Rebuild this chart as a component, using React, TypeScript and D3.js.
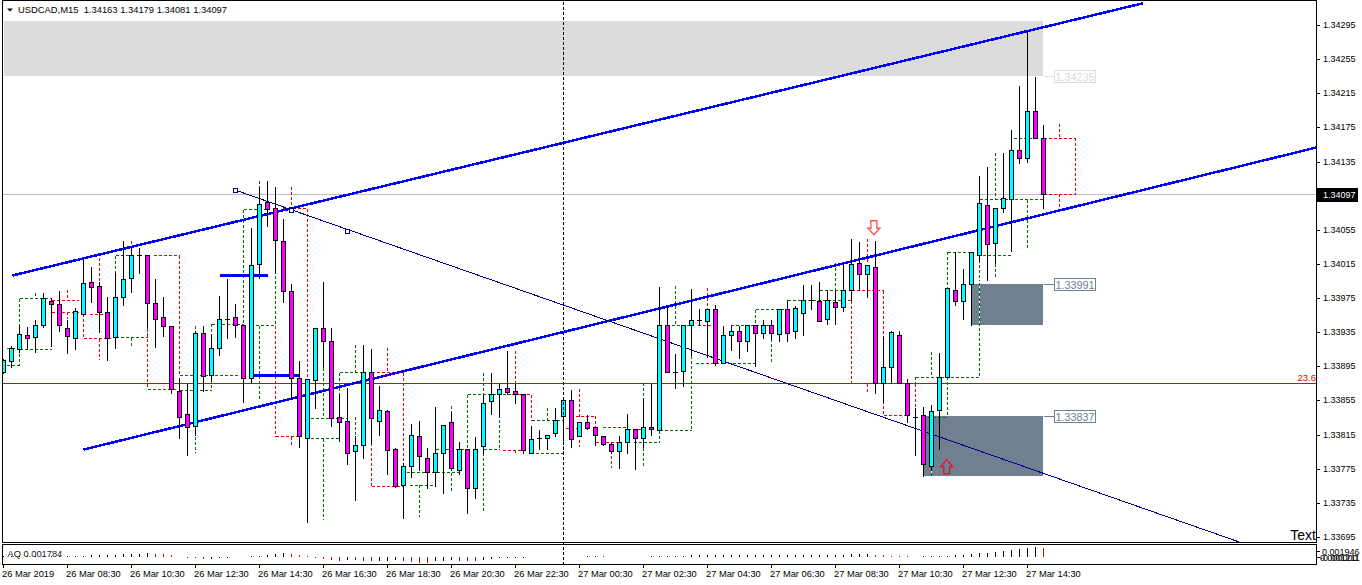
import React from "react";
import * as d3 from "d3";

const opens = [1.33888,1.33901,1.33915,1.33932,1.33929,1.33943,1.33972,1.33968,1.33940,1.33928,1.33956,1.33994,1.33989,1.33959,1.33929,1.33976,1.33998,1.34025,1.34025,1.33969,1.33953,1.33942,1.33866,1.33839,1.33825,1.33934,1.33885,1.33917,1.33951,1.33953,1.33943,1.33881,1.34015,1.34087,1.34080,1.34042,1.33983,1.33881,1.33811,1.33879,1.33940,1.33925,1.33836,1.33831,1.33796,1.33803,1.33888,1.33831,1.33843,1.33798,1.33756,1.33778,1.33813,1.33788,1.33771,1.33794,1.33830,1.33774,1.33798,1.33752,1.33802,1.33854,1.33862,1.33870,1.33866,1.33862,1.33793,1.33811,1.33811,1.33817,1.33837,1.33856,1.33813,1.33830,1.33824,1.33813,1.33804,1.33796,1.33806,1.33821,1.33811,1.33824,1.33820,1.33944,1.33888,1.33890,1.33943,1.33949,1.33948,1.33962,1.33899,1.33932,1.33936,1.33925,1.33943,1.33934,1.33943,1.33933,1.33962,1.33936,1.33957,1.33973,1.33972,1.33950,1.33970,1.33964,1.33984,1.34016,1.34003,1.34011,1.33875,1.33894,1.33932,1.33876,1.33836,1.33838,1.33778,1.33844,1.33883,1.33985,1.33972,1.33991,1.34025,1.34084,1.34039,1.34080,1.34091,1.34148,1.34139,1.34194,1.34163];
const highs = [1.33905,1.33920,1.33943,1.33942,1.33950,1.33982,1.33976,1.33985,1.33951,1.33964,1.34022,1.34012,1.33995,1.33977,1.34005,1.34043,1.34035,1.34035,1.34025,1.33999,1.33977,1.33942,1.33883,1.33876,1.33937,1.33943,1.33934,1.33979,1.33999,1.33969,1.33943,1.34058,1.34106,1.34113,1.34106,1.34069,1.33993,1.33902,1.33880,1.33941,1.33995,1.33941,1.33862,1.33871,1.33815,1.33921,1.33917,1.33873,1.33845,1.33800,1.33783,1.33829,1.33832,1.33800,1.33849,1.33828,1.33842,1.33808,1.33798,1.33813,1.33862,1.33888,1.33876,1.33914,1.33876,1.33864,1.33826,1.33821,1.33815,1.33847,1.33857,1.33869,1.33831,1.33839,1.33825,1.33815,1.33806,1.33814,1.33840,1.33821,1.33859,1.33875,1.33989,1.33967,1.33911,1.33943,1.33987,1.33963,1.33962,1.33968,1.33943,1.33943,1.33943,1.33943,1.33943,1.33950,1.33950,1.33962,1.33973,1.33967,1.33991,1.33991,1.33995,1.33984,1.33984,1.34017,1.34045,1.34042,1.34014,1.34043,1.33930,1.33937,1.33936,1.33881,1.33847,1.33849,1.33851,1.33912,1.33987,1.34030,1.34010,1.34029,1.34119,1.34130,1.34082,1.34146,1.34173,1.34225,1.34290,1.34235,1.34179];
const lows = [1.33887,1.33894,1.33912,1.33917,1.33912,1.33941,1.33919,1.33936,1.33911,1.33915,1.33955,1.33970,1.33935,1.33902,1.33917,1.33967,1.33982,1.34004,1.33941,1.33918,1.33930,1.33864,1.33811,1.33791,1.33815,1.33866,1.33879,1.33908,1.33928,1.33929,1.33853,1.33876,1.33998,1.34060,1.34004,1.33970,1.33858,1.33800,1.33712,1.33846,1.33894,1.33825,1.33808,1.33780,1.33738,1.33788,1.33806,1.33814,1.33769,1.33754,1.33717,1.33765,1.33773,1.33753,1.33755,1.33746,1.33774,1.33769,1.33723,1.33741,1.33794,1.33839,1.33836,1.33862,1.33852,1.33793,1.33793,1.33798,1.33798,1.33813,1.33809,1.33800,1.33813,1.33822,1.33803,1.33803,1.33794,1.33776,1.33794,1.33775,1.33801,1.33815,1.33820,1.33888,1.33870,1.33872,1.33908,1.33943,1.33906,1.33897,1.33899,1.33914,1.33905,1.33913,1.33895,1.33928,1.33928,1.33925,1.33925,1.33928,1.33932,1.33962,1.33948,1.33945,1.33945,1.33960,1.33973,1.33985,1.33976,1.33864,1.33853,1.33875,1.33875,1.33830,1.33791,1.33766,1.33774,1.33798,1.33883,1.33967,1.33950,1.33944,1.34018,1.33996,1.34016,1.34076,1.34030,1.34133,1.34134,1.34163,1.34081];
const closes = [1.33902,1.33917,1.33933,1.33928,1.33943,1.33975,1.33968,1.33943,1.33930,1.33960,1.33993,1.33988,1.33959,1.33928,1.33976,1.33997,1.34025,1.34025,1.33969,1.33951,1.33942,1.33869,1.33836,1.33824,1.33934,1.33884,1.33917,1.33951,1.33951,1.33944,1.33881,1.34014,1.34085,1.34079,1.34043,1.33983,1.33881,1.33813,1.33880,1.33940,1.33925,1.33835,1.33830,1.33793,1.33803,1.33888,1.33835,1.33844,1.33797,1.33755,1.33778,1.33814,1.33790,1.33771,1.33793,1.33826,1.33776,1.33798,1.33752,1.33798,1.33852,1.33863,1.33869,1.33865,1.33862,1.33797,1.33810,1.33811,1.33815,1.33832,1.33856,1.33810,1.33830,1.33823,1.33814,1.33804,1.33796,1.33806,1.33821,1.33811,1.33824,1.33821,1.33944,1.33888,1.33888,1.33943,1.33949,1.33949,1.33962,1.33899,1.33932,1.33936,1.33925,1.33943,1.33934,1.33943,1.33934,1.33962,1.33934,1.33963,1.33973,1.33973,1.33948,1.33973,1.33964,1.33984,1.34015,1.34003,1.34014,1.33875,1.33894,1.33935,1.33875,1.33838,1.33836,1.33780,1.33843,1.33883,1.33987,1.33972,1.33991,1.34029,1.34086,1.34038,1.34080,1.34092,1.34148,1.34139,1.34194,1.34163,1.34097];

const aoValues = [0.0001,0.0001,0.0001,0.0001,0.0001,0.0001,0.0001,0.0001,0.0001,0.0002,0.0002,0.0003,0.0004,0.0004,0.0004,0.0005,0.0005,0.0006,0.0007,0.0006,0.0005,0.0004,0,-0.0002,-0.0003,-0.0005,-0.0004,-0.0003,-0.0001,0,0,0.0001,0.0002,0.0003,0.0005,0.0007,0.0006,0.0003,0.0001,-0.0001,-0.0005,-0.0007,-0.0008,-0.0006,-0.0007,-0.0008,-0.00085,-0.0008,-0.00075,-0.0006,-0.0008,-0.001,-0.00115,-0.001211,-0.0009,-0.0008,-0.00068,-0.00072,-0.00076,-0.0008,-0.0006,-0.0004,-0.0003,-0.00014,-0.0001,-0.0001,0,0,0,0,0,0,0,0.0001,0.0001,0.00005,0,0,0,0,0,0.0001,0.00015,0.0002,0.0002,0.0002,0.0003,0.0003,0.0004,0.0004,0.0004,0.0004,0.0004,0.0004,0.0004,0.0004,0.0004,0.0004,0.0004,0.0004,0.0004,0.0004,0.0004,0.0004,0.0004,0.0004,0.0005,0.0005,0.0005,0.0004,0.0003,0.0002,0.0001,0.00005,0,0.0001,0.0001,0.0001,0.0002,0.0003,0.0004,0.0006,0.0007,0.0008,0.001,0.0012,0.0014,0.0016,0.0018,0.001946,0.001784];

const priceTicks = [1.34295,1.34255,1.34215,1.34175,1.34135,1.34095,1.34055,1.34015,1.33975,1.33935,1.33895,1.33855,1.33815,1.33775,1.33735,1.33695];
const timeLabels = ["26 Mar 2019","26 Mar 08:30","26 Mar 10:30","26 Mar 12:30","26 Mar 14:30","26 Mar 16:30","26 Mar 18:30","26 Mar 20:30","26 Mar 22:30","27 Mar 00:30","27 Mar 02:30","27 Mar 04:30","27 Mar 06:30","27 Mar 08:30","27 Mar 10:30","27 Mar 12:30","27 Mar 14:30"];

// [bar start, bar end, price]
const greenH = [[0.4,2,1.33917],[0.4,2,1.33897],[2,6.1,1.33975],[2,6.1,1.33915],[14,16,1.34025],[14,18,1.33929],[22.1,29.4,1.33885],[22.1,26.1,1.33867],[26,30,1.33945],[30,33,1.34079],[31.5,34,1.33943],[38.4,43,1.33835],[38.4,42,1.33811],[42,45,1.33888],[50.4,57,1.33771],[50.8,54,1.33756],[54,58,1.33798],[58,64.9,1.33862],[60,62.1,1.33798],[66,70,1.33832],[65.9,70,1.33793],[78,80,1.33821],[78.8,82.1,1.33806],[82.1,86,1.33820],[83.5,86,1.33943],[89.9,94,1.33899],[90.9,96,1.33943],[94,98,1.33962],[98,106,1.33973],[102,105,1.33984],[114,122,1.33883],[115.5,118,1.33836],[118,121.3,1.34029],[122,130,1.34091],[122.4,126,1.34025],[126.3,128.8,1.34163]];
// [bar, price start, price end]
const greenV = [[2,1.33975,1.33897],[4,1.33982,1.33975],[14,1.34025,1.33973],[16,1.34043,1.34025],[16,1.33929,1.33920],[18,1.33941,1.33929],[24,1.33943,1.33934],[24,1.33824,1.33794],[26,1.33885,1.33867],[26,1.33945,1.33934],[30,1.34079,1.33945],[32,1.34113,1.34085],[32,1.33943,1.33856],[34,1.34043,1.33943],[40,1.33894,1.33835],[40,1.33811,1.33716],[42,1.33888,1.33811],[44,1.33921,1.33888],[44,1.33836,1.33811],[52,1.33756,1.33719],[54,1.33798,1.33756],[56,1.33849,1.33829],[56,1.33771,1.33747],[58,1.33862,1.33798],[60,1.33888,1.33852],[60,1.33794,1.33725],[62,1.33862,1.33798],[68,1.33847,1.33832],[70,1.33832,1.33793],[80,1.33876,1.33777],[82,1.33820,1.33806],[86,1.33943,1.33820],[84,1.33990,1.33943],[94,1.33962,1.33899],[96,1.33934,1.33899],[98,1.33973,1.33962],[100,1.33991,1.33973],[100,1.33957,1.33932],[104,1.34017,1.33984],[114,1.33883,1.33875],[116,1.33912,1.33883],[116,1.33777,1.33766],[118,1.33883,1.33836],[118,1.34029,1.33984],[122,1.33993,1.33883],[122,1.34020,1.33996],[124,1.34146,1.34092],[124,1.34016,1.33999],[128,1.34091,1.34034]];
const redH = [[6.1,9.4,1.33973],[6.1,9.4,1.33959],[10.1,13.4,1.33928],[10.8,12.6,1.33956],[18.8,22.1,1.34025],[18,21.8,1.33869],[34.9,38,1.34080],[34,37,1.33813],[46.1,50,1.33888],[46,50,1.33755],[62.4,65.5,1.33797],[63.6,66.1,1.33862],[70.3,72,1.33823],[71.5,74.1,1.33837],[74.1,76.8,1.33806],[74.9,78,1.33824],[86.5,89.9,1.33899],[86.8,88.8,1.33943],[106,110,1.33984],[106,114,1.33875],[110,113,1.33838],[130,134,1.34163],[130,134,1.34097]];
const redV = [[8,1.33985,1.33973],[8,1.33959,1.33951],[10,1.33957,1.33928],[12,1.34022,1.33988],[12,1.33928,1.33903],[18,1.33969,1.33869],[22,1.34025,1.33885],[36,1.34106,1.34080],[38,1.34080,1.33881],[34,1.33943,1.33813],[36,1.33813,1.33802],[48,1.33917,1.33888],[50,1.33888,1.33755],[46,1.33835,1.33755],[64,1.33914,1.33862],[64,1.33797,1.33794],[66,1.33862,1.33832],[72,1.33869,1.33836],[72,1.33809,1.33801],[74,1.33837,1.33806],[76,1.33796,1.33777],[88,1.33987,1.33962],[106,1.33984,1.33876],[110,1.33984,1.33838],[108,1.34045,1.34016],[108,1.33875,1.33865],[112,1.33937,1.33932],[114,1.33875,1.33838],[132,1.34179,1.34163],[132,1.34097,1.34080],[134,1.34163,1.34097]];
const gapsInZones = [[122,1.33991,1.33944],[116,1.33837,1.33766]];

// [bar 1, price 1, bar 2, price 2]
const thickLines = [[1.1,1.34002,142.4,1.34321],[10,1.33798,164.1,1.34152],[27,1.34002,33.1,1.34002],[31.2,1.33885,37,1.33885]];
const thinLine = [29,1.34102,155,1.33688];
const thinAnchors = [[29,1.34102],[36,1.34078],[43,1.34054]];

// [bar start, price top, price bottom, fill]
const zones = [[0,1.34300,1.34235,"#dcdcdc"],[121,1.33991,1.33944,"#708090"],[115,1.33837,1.33766,"#708090"]];
const zoneLabels = [{ text: "1.34235", price: 1.34235, color: "#dcdcdc" }, { text: "1.33991", price: 1.33991, color: "#708090" }, { text: "1.33837", price: 1.33837, color: "#708090" }];
const zoneEndBar = 129.94;
const separatorBar = 70;
const lastPrice = 1.34097;
const fibPrice = 1.33875;
const downArrow = [108.8, 1.34058];
const upArrow = [117.9, 1.33778];

const W = 1362;
const H = 585;
const LEFT = 2.5;
const RIGHT = 1316.5;
const FONT = "'Liberation Sans', Arial, sans-serif";

const x = d3.scaleLinear().domain([0, 130]).range([3.5, 1043.5]);
const y = d3.scaleLinear().domain([1.33695, 1.34295]).range([537.5, 25.5]);
const ao = d3.scaleLinear().domain([-0.001211, 0.001946]).range([563, 547.3]);
const px = (v: number) => Math.round(v - 0.5) + 0.5;
const thickPath = d3.line();

export default function App() {
  const dash = (h: number[][], v: number[][], color: string, name: string) => (
    <g stroke={color} strokeWidth={1} strokeDasharray="3 2" fill="none" data-name={name}>
      {h.map((d, i) => <line key={"h" + i} x1={x(d[0])} x2={x(d[1])} y1={px(y(d[2]))} y2={px(y(d[2]))} />)}
      {v.map((d, i) => <line key={"v" + i} x1={px(x(d[0]))} x2={px(x(d[0]))} y1={y(d[1])} y2={y(d[2])} />)}
    </g>
  );
  return (
    <svg width={W} height={H} viewBox={`0 0 ${W} ${H}`} style={{ position: "absolute", left: 0, top: 0, background: "#fff" }} fontFamily={FONT} shapeRendering="crispEdges">
      <defs>
        <clipPath id="main"><rect x={3} y={1} width={1313} height={541} /></clipPath>
      </defs>
      <g clipPath="url(#main)">
        {zones.map((z, i) => {
          const top = Math.floor(y(z[1] as number));
          const bottom = Math.floor(y(z[2] as number));
          return <rect key={i} x={x(z[0] as number)} y={top} width={x(zoneEndBar) - x(z[0] as number)} height={bottom - top} fill={z[3] as string} />;
        })}
        {gapsInZones.map((d, i) => <line key={i} x1={px(x(d[0]))} x2={px(x(d[0]))} y1={Math.floor(y(d[1]))} y2={Math.floor(y(d[2]))} stroke="#fff" />)}
        <line x1={LEFT} x2={RIGHT} y1={px(y(lastPrice))} y2={px(y(lastPrice))} stroke="#c0c0c0" />
        <line x1={LEFT} x2={RIGHT} y1={px(y(fibPrice))} y2={px(y(fibPrice))} stroke="#e00000" />
        {dash(greenH, greenV, "#006f00", "green")}
        {dash(redH, redV, "#f00000", "red")}
        {thickLines.map((d, i) => (
          <path key={i} d={thickPath([[x(d[0]), y(d[1])], [x(d[2]), y(d[3])]]) as string} stroke="#0000ff" strokeWidth={2.5} fill="none" />
        ))}
        <path d={thickPath([[x(thinLine[0]), y(thinLine[1])], [x(thinLine[2]), y(thinLine[3])]]) as string} stroke="#000090" strokeWidth={1} fill="none" />
        {thinAnchors.map((d, i) => (
          <rect key={i} x={px(x(d[0])) - 2} y={px(y(d[1])) - 2} width={4} height={4} fill="#fff" stroke="#000090" />
        ))}
        {opens.map((o, i) => {
          const c = closes[i];
          const cx = x(i);
          const top = px(y(Math.max(o, c)));
          const bot = px(y(Math.min(o, c)));
          return (
            <g key={i}>
              <line x1={cx} x2={cx} y1={px(y(highs[i]))} y2={px(y(lows[i]))} stroke="#000" />
              {o === c
                ? <line x1={cx - 2.5} x2={cx + 2.5} y1={top} y2={top} stroke="#000" />
                : <rect x={cx - 2} y={top} width={4} height={Math.max(bot - top, 1)} fill={c > o ? "#00ffff" : "#ff00ff"} stroke="#000" />}
            </g>
          );
        })}
        {/* arrows */}
        <g transform={`translate(${x(downArrow[0])},${y(downArrow[1])})`} shapeRendering="auto">
          <path d="M-3,-7V0.5H-6L0,7L6,0.5H3V-7Z" fill="#fff" stroke="#ff5050" strokeWidth={1.3} />
        </g>
        <g transform={`translate(${x(upArrow[0])},${y(upArrow[1])})`} shapeRendering="auto">
          <path d="M-3,7V0H-6L0,-7L6,0H3V7Z" fill="none" stroke="#e8102a" strokeWidth={1.3} />
        </g>
      </g>

      {/* period separator */}
      <line x1={px(x(separatorBar))} x2={px(x(separatorBar))} y1={2} y2={564} stroke="#000" strokeDasharray="3 2" />

      {/* zone labels */}
      {zoneLabels.map((l, i) => {
        const ly = Math.floor(y(l.price)) + 0.5;
        return (
          <g key={i}>
            <line x1={1044} x2={1054} y1={ly} y2={ly} stroke={l.color} />
            <rect x={1054.5} y={ly - 6} width={41} height={12} fill="#fff" stroke={l.color} />
            <text x={1075} y={ly + 4} textAnchor="middle" fontSize={10.8} fill={l.color} shapeRendering="auto">{l.text}</text>
          </g>
        );
      })}

      {/* oscillator */}
      {aoValues.map((v, i) => {
        if (v === 0) return null;
        const prev = i > 0 ? aoValues[i - 1] : v;
        const y0 = Math.round(ao(0));
        const y1 = Math.round(ao(v));
        const end = y1 === y0 ? (v > 0 ? y0 - 1 : y0 + 1) : y1;
        return <line key={i} x1={x(i)} x2={x(i)} y1={y0} y2={end} stroke={v >= prev ? "#000" : "#e00000"} />;
      })}

      {/* frames */}
      <g stroke="#000" fill="none">
        <path d={`M${LEFT},543V0.5H${RIGHT}V543`} />
        <line x1={LEFT} x2={RIGHT} y1={542.5} y2={542.5} />
        <rect x={LEFT} y={544.5} width={RIGHT - LEFT} height={20} />
        {priceTicks.map((t, i) => <line key={i} x1={RIGHT} x2={1320} y1={px(y(t))} y2={px(y(t))} />)}
        <line x1={RIGHT} x2={1320} y1={551.5} y2={551.5} />
        <line x1={RIGHT} x2={1320} y1={557.5} y2={557.5} />
        {timeLabels.map((_, i) => <line key={i} x1={x(i * 8)} x2={x(i * 8)} y1={564} y2={568} />)}
      </g>

      {/* title */}
      <path d="M7,8.5H13L10,11.5Z" fill="#000" shapeRendering="auto" />
      <text x={18} y={13} fontSize={9.4} fill="#000">
        USDCAD,M15{"\u00a0\u00a0"}1.34163 1.34179 1.34081 1.34097
      </text>

      {/* axis text */}
      <g fontSize={9} fill="#000">
        {priceTicks.map((t, i) => <text key={i} x={1323} y={px(y(t)) + 2.5}>{t.toFixed(5)}</text>)}
        <text x={1322} y={555}>0.001946</text>
        <text x={1320} y={561}>0.000000</text>
        <text x={1320} y={561}>-0.001211</text>
      </g>
      <rect x={1317} y={px(y(lastPrice)) - 7} width={41} height={14} fill="#000" />
      <text x={1323} y={px(y(lastPrice)) + 3} fontSize={9} fill="#fff">{lastPrice.toFixed(5)}</text>
      <text x={1316} y={381} textAnchor="end" fontSize={9.5} fill="#e00000">23.6</text>
      <text x={1316} y={539.5} textAnchor="end" fontSize={14} fill="#000">Text</text>
      <text x={7.5} y={556.5} fontSize={9.3} fill="#222">AQ 0.001784</text>
      <g fontSize={9.3} fill="#000">
        {timeLabels.map((t, i) => <text key={i} x={x(i * 8) - 1.5} y={577}>{t}</text>)}
      </g>
    </svg>
  );
}
